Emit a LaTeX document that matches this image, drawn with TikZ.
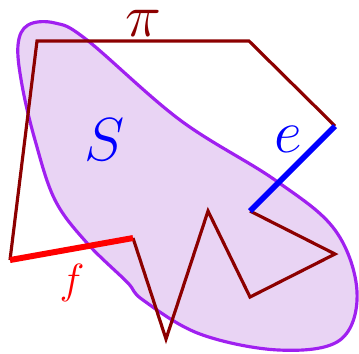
\documentclass[tikz,border=0pt]{standalone}
\usepackage{tikz}
\usetikzlibrary{calc}

\definecolor{pathred}{RGB}{140,0,0}
\definecolor{blobline}{RGB}{160,32,240}
\definecolor{blobfill}{RGB}{233,212,244}

\begin{document}
\begin{tikzpicture}[
  x=0.01cm, y=-0.01cm,
  blob/.style={
    draw=blobline,
    line width=0.9pt,
    fill=blobfill
  },
  walk/.style={draw=pathred, line width=0.9pt, line join=miter},
  edgee/.style={draw=blue, line width=1.6pt},
  edgef/.style={draw=red, line width=1.7pt},
  biglabel/.style={font=\fontsize{19}{22}\selectfont, inner sep=0pt}
]
\useasboundingbox (0,0) rectangle (359,353);

% the region S
\draw[blob] plot[smooth cycle, tension=0.6] coordinates {
  (18,45) (28,25) (55,23) (87,40) (180,120) (275,180) (335,230)
  (357,292) (340,340) (279,350) (200,334) (143,300) (127,282)
  (87,243) (55,200) (35,140) (22,85)};

% vertices of the walk
\coordinate (p1) at (37,41);
\coordinate (p2) at (249,41);
\coordinate (p3) at (335,126);
\coordinate (p4) at (250,211);
\coordinate (p5) at (335,254);
\coordinate (p6) at (250,297);
\coordinate (p7) at (208,211);
\coordinate (p8) at (166,339);
\coordinate (p9) at (133,238);
\coordinate (p10) at (10,260);

\draw[walk] (p3) -- (p2) -- (p1) -- (p10);
\draw[walk] (p4) -- (p5) -- (p6) -- (p7) -- (p8) -- (p9);
\draw[edgee] (p3) -- (p4);
\draw[edgef] (p9) -- (p10);

\node[biglabel, text=pathred] (pi) at (143,23) {$\pi$};
\node[biglabel, text=blue] (S) at (105,140) {$S$};
\node[biglabel, text=blue] (e) at (288,139) {$e$};
\node[font=\fontsize{12}{14}\selectfont, inner sep=0pt, text=red] (f) at (72,283) {$f$};
\end{tikzpicture}
\end{document}
